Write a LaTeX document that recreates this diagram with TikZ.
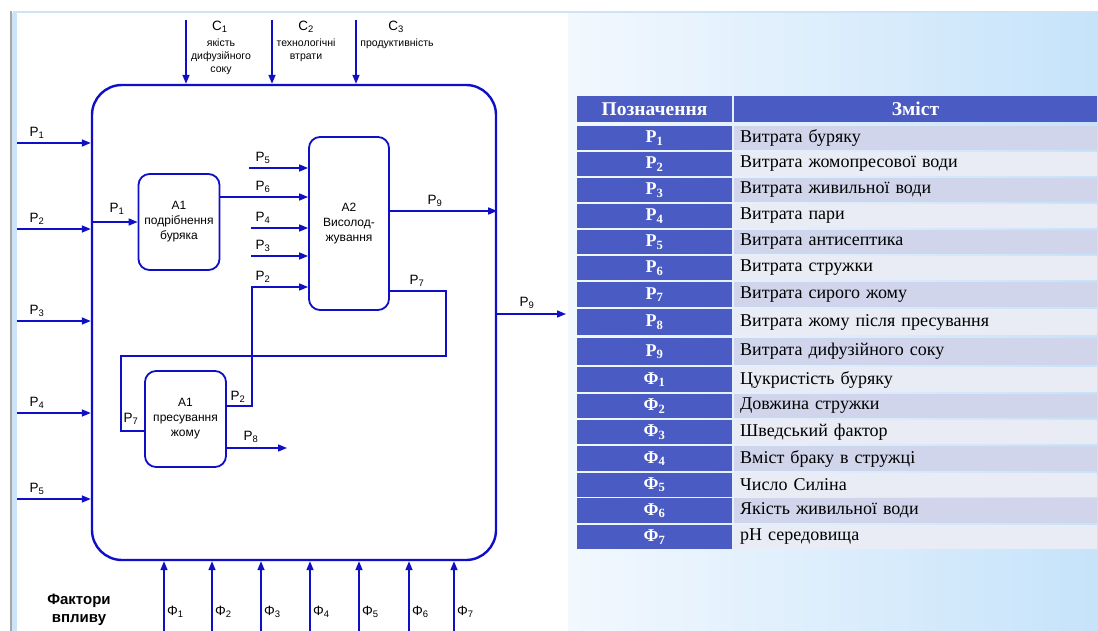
\documentclass[tikz,border=0pt]{standalone}
\usepackage{fontspec}
\setmainfont{Liberation Serif}
\setsansfont{Liberation Sans}
\usepackage{tikz}
\usetikzlibrary{arrows.meta}

\definecolor{idef}{RGB}{15,15,200}
\definecolor{tabhead}{RGB}{74,92,196}
\definecolor{rowdark}{RGB}{208,213,235}
\definecolor{rowlight}{RGB}{233,235,245}
\definecolor{slideleft}{RGB}{242,248,254}
\definecolor{slideright}{RGB}{198,227,250}
\definecolor{slideedge}{RGB}{205,228,248}

\newcommand{\Psub}[1]{P\textsubscript{#1}}
\newcommand{\Fsub}[1]{Φ\textsubscript{#1}}

\begin{document}
\begin{tikzpicture}[x=1pt,y=-1pt,>={Triangle[length=9pt,width=7pt]},
            flow/.style={->,draw=idef,line width=1.5pt},
            wire/.style={draw=idef,line width=1.5pt},
            block/.style={draw=idef,line width=1.8pt,rounded corners=11pt,align=center,
                minimum width=81pt,minimum height=96pt,font=\sffamily\fontsize{12}{15}\selectfont},
            lbl/.style={inner sep=0pt,font=\sffamily\fontsize{13.5}{13.5}\selectfont},
            note/.style={inner sep=0pt,align=center,font=\sffamily\fontsize{10.5}{13}\selectfont},
            key/.style={fill=tabhead,text=white,minimum width=155pt,minimum height=24pt,inner sep=0pt,
                font=\bfseries\fontsize{18}{18}\selectfont},
            txt/.style={anchor=west,text width=351pt,inner xsep=6pt,inner ysep=0pt,minimum height=24pt,
                align=left,font=\fontsize{18}{18}\selectfont}]

        \useasboundingbox (0,0) rectangle (1098,631);

        % slide background
        \fill[white] (0,0) rectangle (1098,631);
        \shade[left color=slideleft, right color=slideright] (568,13) rectangle (1098,631);
        \fill[slideedge] (13,11) rectangle (1098,13);
        \fill[gray!70] (10,11) rectangle (12,631);
        \fill[slideedge] (12,13) rectangle (17,631);

        % system box and blocks
        \node[draw=idef, line width=2.4pt, rounded corners=30pt, minimum width=404pt, minimum height=475pt] (sys) at (294,322.5) {};
        \node[block] (A1) at (179,222) {A1\\подрібнення\\буряка};
        \node[block, minimum width=80pt, minimum height=173pt] (A2) at (349,223.5) {A2\\Висолод-\\жування};
        \node[block] (A3) at (185.5,419) {A1\\пресування\\жому};

        % controls
        \coordinate (c1) at (186,20);
        \coordinate (c2) at (272,20);
        \coordinate (c3) at (356,20);
        \draw[flow] (c1) -- (c1 |- sys.north);
        \draw[flow] (c2) -- (c2 |- sys.north);
        \draw[flow] (c3) -- (c3 |- sys.north);
        \node[lbl] (c1l) at (220,27) {C\textsubscript{1}};
        \node[lbl] (c2l) at (306,27) {C\textsubscript{2}};
        \node[lbl] (c3l) at (396,27) {C\textsubscript{3}};
        \node[note, anchor=north] (c1n) at (221,39) {якість\\дифузійного\\соку};
        \node[note, anchor=north] (c2n) at (306,39) {технологічні\\втрати};
        \node[note, anchor=north] (c3n) at (397,39) {продуктивність};

        % inputs
        \coordinate (p1) at (17,143);
        \coordinate (p2) at (17,229);
        \coordinate (p3) at (17,321);
        \coordinate (p4) at (17,413);
        \coordinate (p5) at (17,499);
        \draw[flow] (p1) -- (p1 -| sys.west);
        \draw[flow] (p2) -- (p2 -| sys.west);
        \draw[flow] (p3) -- (p3 -| sys.west);
        \draw[flow] (p4) -- (p4 -| sys.west);
        \draw[flow] (p5) -- (p5 -| sys.west);
        \node[lbl] at (37,133) {\Psub1};
        \node[lbl] at (37,219) {\Psub2};
        \node[lbl] at (37,311) {\Psub3};
        \node[lbl] at (37,403) {\Psub4};
        \node[lbl] at (37,489) {\Psub5};

        % flows inside
        \draw[flow] (sys.west |- A1.west) -- (A1.west);
        \node[lbl] at (117,209) {\Psub1};
        \coordinate (q5) at (249,168);
        \coordinate (q4) at (251,228);
        \coordinate (q3) at (251,256);
        \draw[flow] (q5) -- (q5 -| A2.west);
        \draw[flow] (q4) -- (q4 -| A2.west);
        \draw[flow] (q3) -- (q3 -| A2.west);
        \draw[flow] ([yshift=25pt]A1.east) coordinate (q6) -- (q6 -| A2.west);
        \node[lbl] at (263,158) {\Psub5};
        \node[lbl] at (263,187) {\Psub6};
        \node[lbl] at (263,218) {\Psub4};
        \node[lbl] at (263,246) {\Psub3};
        \draw[flow] ([yshift=12.5pt]A2.east) coordinate (q9) -- (q9 -| sys.east);
        \node[lbl] at (435,201) {\Psub9};
        \draw[wire] ([yshift=-67.5pt]A2.east) -- (446,291) -- (446,356) -- (121,356) -- (121,431) -- (A3.west |- 0,431);
        \node[lbl] at (417,281) {\Psub7};
        \node[lbl] at (131,419) {\Psub7};
        \draw[flow] ([yshift=13pt]A3.east) -- (252,406) -- (252,287) -- (A2.west |- 0,287);
        \node[lbl] at (263,277) {\Psub2};
        \node[lbl] at (238,397) {\Psub2};
        \draw[flow] ([yshift=-29pt]A3.east) -- (287,448);
        \node[lbl] at (251,437) {\Psub8};
        \coordinate (o9) at (566,314);
        \draw[flow] (o9 -| sys.east) -- (o9);
        \node[lbl] at (527,303) {\Psub9};

        % influence factors
        \node[inner sep=0pt, align=center, font=\sffamily\bfseries\fontsize{15}{18}\selectfont] (fv) at (79,610) {Фактори\\впливу};
        \coordinate (f1) at (164,631);
        \coordinate (f2) at (212,631);
        \coordinate (f3) at (261,631);
        \coordinate (f4) at (310,631);
        \coordinate (f5) at (359,631);
        \coordinate (f6) at (409,631);
        \coordinate (f7) at (454,631);
        \draw[flow] (f1) -- (f1 |- sys.south);
        \draw[flow] (f2) -- (f2 |- sys.south);
        \draw[flow] (f3) -- (f3 |- sys.south);
        \draw[flow] (f4) -- (f4 |- sys.south);
        \draw[flow] (f5) -- (f5 |- sys.south);
        \draw[flow] (f6) -- (f6 |- sys.south);
        \draw[flow] (f7) -- (f7 |- sys.south);
        \node[lbl, anchor=west] at (167,612) {\Fsub1};
        \node[lbl, anchor=west] at (215,612) {\Fsub2};
        \node[lbl, anchor=west] at (264,612) {\Fsub3};
        \node[lbl, anchor=west] at (313,612) {\Fsub4};
        \node[lbl, anchor=west] at (362,612) {\Fsub5};
        \node[lbl, anchor=west] at (412,612) {\Fsub6};
        \node[lbl, anchor=west] at (457,612) {\Fsub7};

        % table
        \node[key, minimum height=26pt, font=\bfseries\fontsize{19.5}{19.5}\selectfont] (h1) at (654.5,109) {Позначення};
        \node[key, minimum width=363pt, minimum height=26pt, font=\bfseries\fontsize{19.5}{19.5}\selectfont] (h2) at (915.5,109) {Зміст};
        \node[key] (k1) at (654.5,138) {\Psub1};
        \node[txt, fill=rowdark] (t1) at (734,138) {Витрата буряку};
        \node[key] (k2) at (654.5,164) {\Psub2};
        \node[txt, fill=rowlight] (t2) at (734,164) {Витрата жомопресової води};
        \node[key] (k3) at (654.5,190) {\Psub3};
        \node[txt, fill=rowdark] (t3) at (734,190) {Витрата живильної води};
        \node[key] (k4) at (654.5,216) {\Psub4};
        \node[txt, fill=rowlight] (t4) at (734,216) {Витрата пари};
        \node[key] (k5) at (654.5,242) {\Psub5};
        \node[txt, fill=rowdark] (t5) at (734,242) {Витрата антисептика};
        \node[key] (k6) at (654.5,268) {\Psub6};
        \node[txt, fill=rowlight] (t6) at (734,268) {Витрата стружки};
        \node[key, minimum height=25pt] (k7) at (654.5,294.5) {\Psub7};
        \node[txt, fill=rowdark, minimum height=25pt] (t7) at (734,294.5) {Витрата сирого жому};
        \node[key, minimum height=26pt] (k8) at (654.5,322) {\Psub8};
        \node[txt, fill=rowlight, minimum height=26pt] (t8) at (734,322) {Витрата жому після пресування};
        \node[key, minimum height=27pt] (k9) at (654.5,351.5) {\Psub9};
        \node[txt, fill=rowdark, minimum height=27pt] (t9) at (734,351.5) {Витрата дифузійного соку};
        \node[key, minimum height=25pt] (g1) at (654.5,379.5) {\Fsub1};
        \node[txt, fill=rowlight, minimum height=25pt] (u1) at (734,379.5) {Цукристість буряку};
        \node[key] (g2) at (654.5,406) {\Fsub2};
        \node[txt, fill=rowdark] (u2) at (734,406) {Довжина стружки};
        \node[key] (g3) at (654.5,432) {\Fsub3};
        \node[txt, fill=rowlight] (u3) at (734,432) {Шведський фактор};
        \node[key, minimum height=25pt] (g4) at (654.5,458.5) {\Fsub4};
        \node[txt, fill=rowdark, minimum height=25pt] (u4) at (734,458.5) {Вміст браку в стружці};
        \node[key] (g5) at (654.5,484.5) {\Fsub5};
        \node[txt, fill=rowlight] (u5) at (734,484.5) {Число Силіна};
        \node[key, minimum height=25pt] (g6) at (654.5,510.5) {\Fsub6};
        \node[txt, fill=rowdark, minimum height=25pt] (u6) at (734,510.5) {Якість живильної води};
        \node[key] (g7) at (654.5,537) {\Fsub7};
        \node[txt, fill=rowlight] (u7) at (734,537) {pH середовища};

    \end{tikzpicture}
\end{document}
